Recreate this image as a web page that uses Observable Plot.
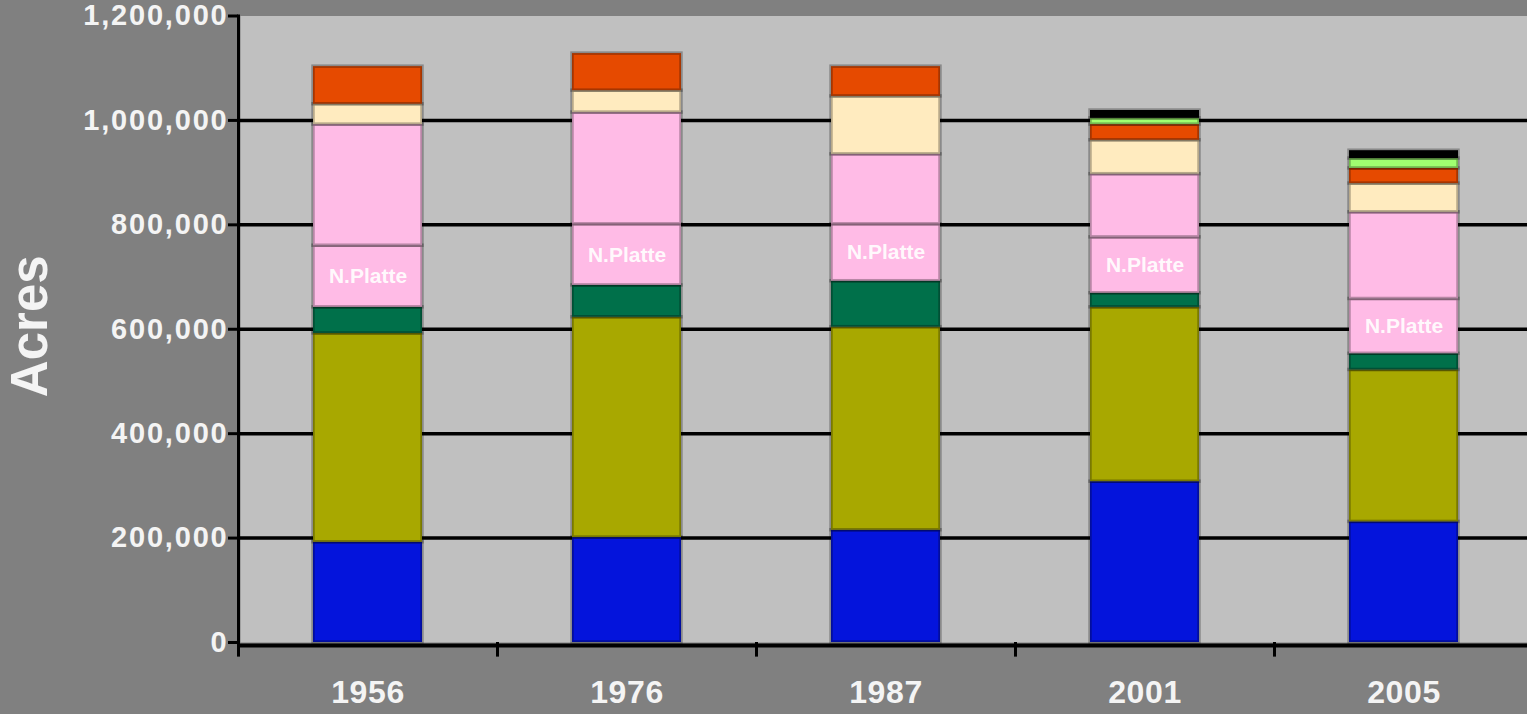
<!DOCTYPE html>
<html><head><meta charset="utf-8">
<script src="https://cdn.jsdelivr.net/npm/d3@7"></script>
<script src="https://cdn.jsdelivr.net/npm/@observablehq/plot@0.6"></script>
<style>
html,body{margin:0;padding:0;background:#808080;overflow:hidden;}
#chart svg{display:block;}
#chart g[aria-label="y-axis tick label"] text{letter-spacing:1.8px;}
#chart g[aria-label="x-axis tick label"] text{letter-spacing:0.6px;}
</style></head><body><div id="chart"></div>
<script>
const years = ["1956", "1976", "1987", "2001", "2005"];
const seriesNames = ["Series 1", "Series 2", "Series 3", "N.Platte (lower)", "N.Platte (upper)", "Series 6", "Series 7", "Series 8", "Series 9"];
const series1 = [192000, 201000, 215000, 308000, 231000];
const series2 = [400000, 422000, 389000, 334000, 291000];
const series3 = [50000, 61000, 88000, 27000, 31000];
const nPlatteLower = [118000, 117000, 109000, 107000, 105000];
const nPlatteUpper = [232000, 214000, 134000, 121000, 166000];
const series6 = [39000, 42000, 111000, 65000, 55000];
const series7 = [72000, 71000, 57000, 30000, 29000];
const series8 = [0, 0, 0, 12000, 19000];
const series9 = [0, 0, 0, 15000, 15000];
const seriesColors = ["#0414dc", "#a8a800", "#00704a", "#ffbbe6", "#ffbbe6", "#ffebbf", "#e64a00", "#a0ff70", "#000000"];
const yTicks = [0, 200000, 400000, 600000, 800000, 1000000, 1200000];
const gridTicks = [200000, 400000, 600000, 800000, 1000000];
const segmentLabel = "N.Platte";
const yLabel = "Acres";

const allSeries = [series1, series2, series3, nPlatteLower, nPlatteUpper, series6, series7, series8, series9];
const table = [];
years.forEach((year, i) => {
  seriesNames.forEach((name, j) => {
    table.push({year, series: name, value: allSeries[j][i]});
  });
});

const width = 1527, height = 714;
const marginLeft = 238, marginRight = -6;
const step = (width - marginLeft - marginRight) / years.length;
const textColor = "#f4f4f4";

const chart = Plot.plot({
  width, height,
  marginLeft, marginRight,
  marginTop: 15.5, marginBottom: 72,
  style: {fontFamily: "'Liberation Sans', Arial, sans-serif", background: "#808080", overflow: "visible"},
  x: {type: "band", domain: years, paddingInner: 0.58, paddingOuter: 0.29, label: null},
  y: {domain: [0, 1200000], label: null},
  color: {domain: seriesNames, range: seriesColors},
  marks: [
    Plot.frame({fill: "#c0c0c0", insetLeft: 2}),
    Plot.gridY(gridTicks, {stroke: "black", strokeOpacity: 1, strokeWidth: 3.5}),
    Plot.barY(table, {x: "year", y: "value", fill: "series", order: seriesNames, stroke: "black", strokeOpacity: 0.28, strokeWidth: 3.5}),
    Plot.text(table, Plot.stackY({
      x: "year", y: "value", z: "series", order: seriesNames,
      text: d => d.series === "N.Platte (lower)" ? segmentLabel : "",
      fill: "white", fillOpacity: 0.92, fontWeight: "bold", fontSize: 21
    })),
    Plot.ruleY([0], {stroke: "black", strokeWidth: 4, dy: 3}),
    Plot.frame({anchor: "left", stroke: "black", strokeWidth: 3}),
    Plot.ruleX(years, {x: d => d, y1: 0, y2: -28000, dx: -step / 2, stroke: "black", strokeWidth: 3}),
    Plot.axisY(yTicks, {tickSize: 10, tickPadding: 0, tickFormat: d3.format(","), stroke: "black", strokeWidth: 3, fill: textColor, fontSize: 29, fontWeight: "bold", label: null}),
    Plot.axisX({tickSize: 0, tickPadding: 38, fill: textColor, fontSize: 32, fontWeight: "bold", label: null}),
    Plot.text([yLabel], {frameAnchor: "left", dx: -208, dy: -3, rotate: -90, textAnchor: "middle", text: d => d, fontSize: 51, fontWeight: "bold", fill: textColor})
  ]
});
document.getElementById("chart").appendChild(chart);
</script>
</body></html>
